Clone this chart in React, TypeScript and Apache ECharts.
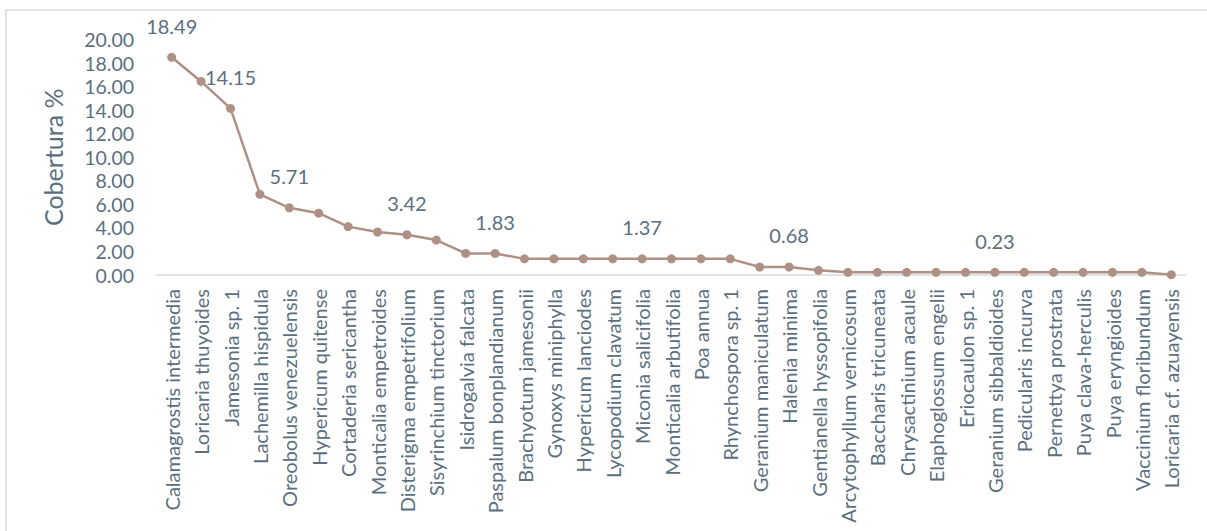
import React, { useEffect, useRef } from "react";
import * as echarts from "echarts";

const categories: string[] = [
  "Calamagrostis intermedia",
  "Loricaria thuyoides",
  "Jamesonia sp. 1",
  "Lachemilla hispidula",
  "Oreobolus venezuelensis",
  "Hypericum quitense",
  "Cortaderia sericantha",
  "Monticalia empetroides",
  "Disterigma empetrifolium",
  "Sisyrinchium tinctorium",
  "Isidrogalvia falcata",
  "Paspalum bonplandianum",
  "Brachyotum jamesonii",
  "Gynoxys miniphylla",
  "Hypericum lanciodes",
  "Lycopodium clavatum",
  "Miconia salicifolia",
  "Monticalia arbutifolia",
  "Poa annua",
  "Rhynchospora sp. 1",
  "Geranium maniculatum",
  "Halenia minima",
  "Gentianella hyssopifolia",
  "Arcytophyllum vernicosum",
  "Baccharis tricuneata",
  "Chrysactinium acaule",
  "Elaphoglossum engelii",
  "Eriocaulon sp. 1",
  "Geranium sibbaldioides",
  "Pedicularis incurva",
  "Pernettya prostrata",
  "Puya clava-herculis",
  "Puya eryngioides",
  "Vaccinium floribundum",
  "Loricaria cf. azuayensis",
];

const cobertura: number[] = [
  18.49, 16.44, 14.15, 6.85, 5.71, 5.25, 4.11, 3.65, 3.42, 2.97, 1.83, 1.83,
  1.37, 1.37, 1.37, 1.37, 1.37, 1.37, 1.37, 1.37, 0.68, 0.68, 0.4, 0.23, 0.23,
  0.23, 0.23, 0.23, 0.23, 0.23, 0.23, 0.23, 0.23, 0.23, 0.03,
];

// indices of points that carry a data label
const labelledPoints: number[] = [0, 2, 4, 8, 11, 16, 21, 28];

const yTicks = { min: 0, max: 20, interval: 2 };

const TEXT = "#5b6f7f";
const LINE = "#ae9184";
const FONT = "Lato, 'Open Sans', sans-serif";

export default function App() {
  const ref = useRef<HTMLDivElement>(null);

  useEffect(() => {
    if (!ref.current) return;
    const chart = echarts.init(ref.current, undefined, { renderer: "svg" });
    const data = cobertura.map((v, i) => ({
      value: v,
      label: { show: labelledPoints.includes(i) },
    }));
    chart.setOption({
      animation: false,
      textStyle: { fontFamily: FONT },
      graphic: [
        {
          type: "rect",
          shape: { x: 6, y: 10, width: 1220, height: 540 },
          style: { fill: "none", stroke: "#d9d9d9", lineWidth: 1.5 },
          silent: true,
        },
      ],
      grid: { left: 157, right: 21, top: 39.5, bottom: 256, containLabel: false },
      xAxis: {
        type: "category",
        data: categories,
        boundaryGap: true,
        axisLine: { show: true, lineStyle: { color: "#d9d9d9", width: 1.5 } },
        axisTick: { show: false },
        axisLabel: {
          rotate: 90,
          interval: 0,
          margin: 14,
          color: TEXT,
          fontSize: 20,
          fontFamily: FONT,
        },
      },
      yAxis: {
        type: "value",
        min: yTicks.min,
        max: yTicks.max,
        interval: yTicks.interval,
        name: "Cobertura %",
        nameLocation: "middle",
        nameGap: 92,
        nameTextStyle: { color: TEXT, fontSize: 25, fontFamily: FONT },
        axisLine: { show: false },
        axisTick: { show: false },
        splitLine: { show: false },
        axisLabel: {
          color: TEXT,
          fontSize: 19.5,
          lineHeight: 20,
          margin: 23,
          fontFamily: FONT,
          formatter: (v: number) => v.toFixed(2),
        },
      },
      series: [
        {
          type: "line",
          data,
          symbol: "circle",
          symbolSize: 9,
          lineStyle: { color: LINE, width: 2.5 },
          itemStyle: { color: LINE },
          label: {
            position: "top",
            distance: 17,
            color: TEXT,
            fontSize: 20,
            fontFamily: FONT,
            formatter: (p: any) => p.value.toFixed(2),
          },
        },
      ],
    });
    return () => chart.dispose();
  }, []);

  return (
    <div
      ref={ref}
      style={{ position: "fixed", left: 0, top: 0, width: 1207, height: 531, background: "#fff" }}
    />
  );
}
